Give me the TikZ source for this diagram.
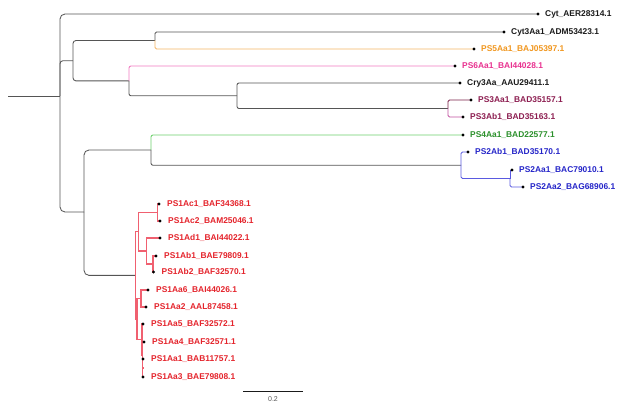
\documentclass[tikz,border=0pt]{standalone}
\usepackage{fontspec}
\setmainfont{Liberation Sans}
\definecolor{treegrey}{HTML}{555555}
\definecolor{blacklab}{HTML}{1A1A1A}
\definecolor{orangebr}{HTML}{F5B464}
\definecolor{orangelab}{HTML}{F0961E}
\definecolor{pinkbr}{HTML}{F07AC0}
\definecolor{pinklab}{HTML}{E8318F}
\definecolor{maroonbr}{HTML}{7A1E48}
\definecolor{magbr}{HTML}{C050A0}
\definecolor{maroonlab}{HTML}{8C1D50}
\definecolor{greenbr}{HTML}{6CCF6C}
\definecolor{greenlab}{HTML}{2A8F2A}
\definecolor{bluebr}{HTML}{5A5AE0}
\definecolor{bluelab}{HTML}{2424C8}
\definecolor{redbr}{HTML}{F06070}
\definecolor{redlab}{HTML}{E4232B}
\tikzset{
  branch/.style={line width=0.85pt, draw=treegrey, rounded corners=3pt},
  redbranch/.style={line width=1.1pt, draw=redbr},
  leafdot/.style={circle, fill=black, inner sep=0pt, minimum size=3.4pt},
  lab/.style={anchor=west, inner sep=0pt, font=\fontsize{8.4}{9}\selectfont\bfseries},
}
\begin{document}
\begin{tikzpicture}[x=1pt,y=-1pt]
\useasboundingbox (0,0) rectangle (640,409);
% internal nodes
\coordinate (rootstart) at (8,96);
\coordinate (root) at (60,96);
\coordinate (nA) at (73,60.7);
\coordinate (nC) at (155,40.5);
\coordinate (nD) at (129,80.9);
\coordinate (nE) at (237,95.75);
\coordinate (nP3) at (448,108.5);
\coordinate (nB) at (84,212);
\coordinate (nG) at (151,150);
\coordinate (nP2) at (461,165.25);
\coordinate (nP2a) at (510,178.5);
\coordinate (nR) at (135.5,275.4);
\coordinate (nU) at (138.5,231.75);
\coordinate (nAc) at (157.5,212.5);
\coordinate (nAd) at (146.5,251);
\coordinate (nAb) at (153,264);
\coordinate (nL) at (137,319);
\coordinate (nA6) at (141,298.5);
\coordinate (nM1) at (142,339.5);
\coordinate (nM2) at (142.5,355);
\coordinate (nM3) at (142.8,368);
% leaf positions
\coordinate (c1) at (538,14);
\coordinate (c2) at (504,32);
\coordinate (c3) at (474,49);
\coordinate (c4) at (455,66);
\coordinate (c5) at (460,83);
\coordinate (c6) at (471,100);
\coordinate (c7) at (463,117);
\coordinate (c8) at (463,135);
\coordinate (c9) at (468,152);
\coordinate (c10) at (512,170);
\coordinate (c11) at (523,187);
\coordinate (c12) at (159,204);
\coordinate (c13) at (160,221);
\coordinate (c14) at (160,238);
\coordinate (c15) at (156,256);
\coordinate (c16) at (153.5,272);
\coordinate (c17) at (148,290);
\coordinate (c18) at (146,307);
\coordinate (c19) at (143,324);
\coordinate (c20) at (144,342);
\coordinate (c21) at (143,359);
\coordinate (c22) at (143,377);
% black / grey branches
\draw[branch] (rootstart) -- (root);
\draw[branch, rounded corners=5pt] (root) |- (c1);
\draw[branch] (root) |- (nA);
\draw[branch, rounded corners=5pt] (root) |- (nB);
\draw[branch] (nA) |- (nC);
\draw[branch] (nA) |- (nD);
\draw[branch, rounded corners=1.5pt] (nC) |- (c2);
\draw[branch, draw=orangebr, rounded corners=1.5pt] (nC) |- (c3);
\draw[branch, draw=pinkbr, rounded corners=2pt] (nD) |- (c4);
\draw[branch, rounded corners=2pt] (nD) |- (nE);
\draw[branch, rounded corners=2pt] (nE) |- (c5);
\draw[branch, rounded corners=2pt] (nE) |- (nP3);
\draw[branch, draw=maroonbr, rounded corners=1.5pt] (nP3) |- (c6);
\draw[branch, draw=magbr, rounded corners=1.5pt] (nP3) |- (c7);
\draw[branch, rounded corners=5pt] (nB) |- (nG);
\draw[branch, draw=greenbr, rounded corners=2pt] (nG) |- (c8);
\draw[branch, rounded corners=2pt] (nG) |- (nP2);
\draw[branch, draw=bluebr, rounded corners=1.5pt] (nP2) |- (c9);
\draw[branch, draw=bluebr, rounded corners=1.5pt] (nP2) |- (nP2a);
\draw[branch, draw=bluebr, rounded corners=0pt] (nP2a) |- (c10);
\draw[branch, draw=bluebr, rounded corners=1.5pt] (nP2a) |- (c11);
\draw[branch, rounded corners=5pt] (nB) |- (nR);
% red cluster
\draw[redbranch] (nR) |- (nU);
\draw[redbranch] (nR) |- (nL);
\draw[redbranch] (nU) |- (nAc);
\draw[redbranch] (nU) |- (nAd);
\draw[redbranch] (nAc) |- (c12);
\draw[redbranch] (nAc) |- (c13);
\draw[redbranch] (nAd) |- (c14);
\draw[redbranch] (nAd) |- (nAb);
\draw[redbranch] (nAb) |- (c15);
\draw[redbranch] (nAb) |- (c16);
\draw[redbranch] (nL) |- (nA6);
\draw[redbranch] (nL) |- (nM1);
\draw[redbranch] (nA6) |- (c17);
\draw[redbranch] (nA6) |- (c18);
\draw[redbranch] (nM1) |- (c19);
\draw[redbranch] (nM1) |- (nM2);
\draw[redbranch] (nM2) |- (c20);
\draw[redbranch] (nM2) |- (nM3);
\draw[redbranch] (nM3) |- (c21);
\draw[redbranch] (nM3) |- (c22);
% leaf dots
\foreach \i in {1,...,22} { \node[leafdot] (l\i) at (c\i) {}; }
% labels
\node[lab, text=blacklab] (t1) at ([xshift=7pt]l1.center) {Cyt\_AER28314.1};
\node[lab, text=blacklab] (t2) at ([xshift=7pt]l2.center) {Cyt3Aa1\_ADM53423.1};
\node[lab, text=orangelab] (t3) at ([xshift=7pt]l3.center) {PS5Aa1\_BAJ05397.1};
\node[lab, text=pinklab] (t4) at ([xshift=7pt]l4.center) {PS6Aa1\_BAI44028.1};
\node[lab, text=blacklab] (t5) at ([xshift=7pt]l5.center) {Cry3Aa\_AAU29411.1};
\node[lab, text=maroonlab] (t6) at ([xshift=7pt]l6.center) {PS3Aa1\_BAD35157.1};
\node[lab, text=maroonlab] (t7) at ([xshift=7pt]l7.center) {PS3Ab1\_BAD35163.1};
\node[lab, text=greenlab] (t8) at ([xshift=7pt]l8.center) {PS4Aa1\_BAD22577.1};
\node[lab, text=bluelab] (t9) at ([xshift=7pt]l9.center) {PS2Ab1\_BAD35170.1};
\node[lab, text=bluelab] (t10) at ([xshift=7pt]l10.center) {PS2Aa1\_BAC79010.1};
\node[lab, text=bluelab] (t11) at ([xshift=7pt]l11.center) {PS2Aa2\_BAG68906.1};
\node[lab, text=redlab] (t12) at ([xshift=8pt]l12.center) {PS1Ac1\_BAF34368.1};
\node[lab, text=redlab] (t13) at ([xshift=8pt]l13.center) {PS1Ac2\_BAM25046.1};
\node[lab, text=redlab] (t14) at ([xshift=8pt]l14.center) {PS1Ad1\_BAI44022.1};
\node[lab, text=redlab] (t15) at ([xshift=8pt]l15.center) {PS1Ab1\_BAE79809.1};
\node[lab, text=redlab] (t16) at ([xshift=8pt]l16.center) {PS1Ab2\_BAF32570.1};
\node[lab, text=redlab] (t17) at ([xshift=8pt]l17.center) {PS1Aa6\_BAI44026.1};
\node[lab, text=redlab] (t18) at ([xshift=8pt]l18.center) {PS1Aa2\_AAL87458.1};
\node[lab, text=redlab] (t19) at ([xshift=8pt]l19.center) {PS1Aa5\_BAF32572.1};
\node[lab, text=redlab] (t20) at ([xshift=8pt]l20.center) {PS1Aa4\_BAF32571.1};
\node[lab, text=redlab] (t21) at ([xshift=8pt]l21.center) {PS1Aa1\_BAB11757.1};
\node[lab, text=redlab] (t22) at ([xshift=8pt]l22.center) {PS1Aa3\_BAE79808.1};
% scale bar
\coordinate (sb1) at (243,391);
\coordinate (sb2) at (303,391);
\draw[line width=0.8pt, draw=blacklab] (sb1) -- (sb2);
\node[inner sep=0pt, text=treegrey, font=\fontsize{7}{8}\selectfont] (sbl) at (273,399.5) {0.2};
\end{tikzpicture}
\end{document}
